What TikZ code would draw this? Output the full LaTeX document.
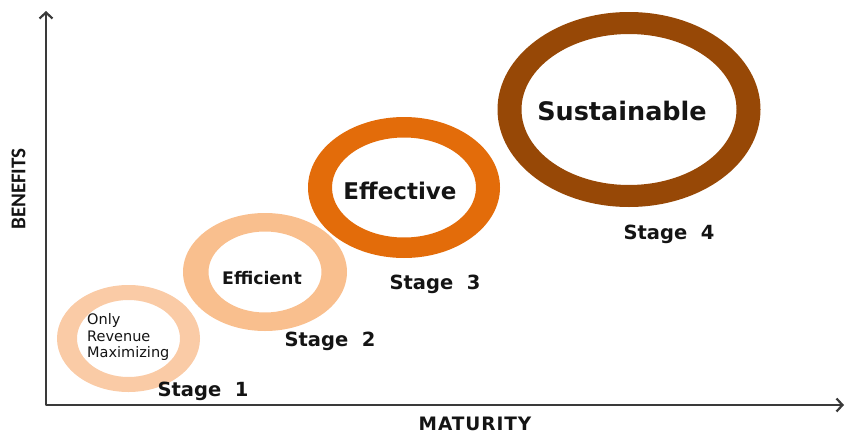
\documentclass[tikz,border=0pt]{standalone}
\usepackage{fontspec}
\setmainfont{DejaVu Sans}
\newfontfamily\axisfont{Carlito}
\usetikzlibrary{arrows.meta}

\definecolor{stageone}{HTML}{FACBA6}
\definecolor{stagetwo}{HTML}{F9BF8E}
\definecolor{stagethree}{HTML}{E36C0A}
\definecolor{stagefour}{HTML}{974806}
\definecolor{axisgray}{HTML}{3A3A3A}
\definecolor{ink}{HTML}{141414}

\begin{document}
\begin{tikzpicture}[x=1pt,y=-1pt,line join=round,>={Straight Barb[length=6pt,width=13pt]}]
        \tikzset{every node/.style={text=ink,inner sep=0pt},
          stagelabel/.style={anchor=base,font=\bfseries\fontsize{19.5}{20}\selectfont},
          ringtext/.style={anchor=base,font=\bfseries\fontsize{#1}{#1}\selectfont}}
        \useasboundingbox (0,0) rectangle (846,434);
        % rings, lightest first so the darker ones lie on top
        \foreach \cx/\cy/\ox/\oy/\ix/\iy/\col in {128.5/338.5/71.5/53.5/51.5/38.5/stageone,
            265/272/82/59/56.5/40.5/stagetwo,
            404/187.5/96/70.5/72/50/stagethree,
            629/109.5/131.5/97.5/107.5/75.5/stagefour}
        \fill[\col,even odd rule] (\cx,\cy) ellipse [x radius=\ox pt,y radius=\oy pt]
                                            ellipse [x radius=\ix pt,y radius=\iy pt];
        % axes
        \coordinate (O) at (46,405);
        \coordinate (ytip) at (46,11);
        \coordinate (xtip) at (844,405);
        \draw[axisgray,line width=2.2pt,<->] (ytip) -- (O) -- (xtip);
        \node[rotate=90,font=\axisfont\bfseries\fontsize{21}{21}\selectfont] (benefits) at (18.5,189) {BENEFITS};
        \node[font=\bfseries\fontsize{18.5}{19}\selectfont\addfontfeature{LetterSpace=5}] (maturity) at (475,424) {MATURITY};
        % text inside the rings
        \node[anchor=west,align=left,font=\fontsize{14.5}{16.8}\selectfont] (revenue) at (87,337) {Only\\Revenue\\Maximizing};
        \node[ringtext=17.3] (efficient) at (262,284) {Efficient};
        \node[ringtext=23] (effective) at (400,199) {Effective};
        \node[ringtext=25.5] (sustainable) at (622,120) {Sustainable};
        % stage labels
        \foreach \n/\x/\y in {1/203/396.5,2/330/346.5,3/435/289,4/669/239}
        \node[stagelabel] (stage\n) at (\x,\y) {Stage~~\n};
    \end{tikzpicture}
\end{document}
